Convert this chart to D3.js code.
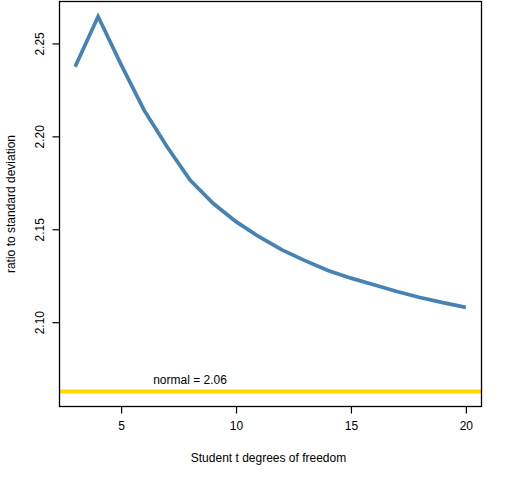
<!DOCTYPE html>
<html>
<head>
<meta charset="utf-8">
<script src="https://cdn.jsdelivr.net/npm/d3@7"></script>
<style>
  body { margin: 0; background: #fff; }
  text { font-family: "Liberation Sans", Arial, sans-serif; fill: #000; }
</style>
</head>
<body>
<svg id="chart" width="512" height="480"></svg>
<script>
// degrees of freedom and ratio to standard deviation
let dof = [3, 4, 5, 6, 7, 8, 9, 10, 11, 12, 13, 14, 15, 16, 17, 18, 19, 20];
let ratio = [2.2375, 2.2645, 2.2386, 2.2141, 2.1944, 2.1765, 2.1640, 2.1541, 2.1460,
             2.1389, 2.1331, 2.1278, 2.1237, 2.1201, 2.1165, 2.1133, 2.1105, 2.1080];
let normalRatio = 2.0627;
let xTicks = [5, 10, 15, 20];
let yTicks = [2.10, 2.15, 2.20, 2.25];

let plotLeft = 59.5, plotRight = 481.5, plotTop = 1.5, plotBottom = 406.5;

let svg = d3.select('#chart');

// R style 4% padding on both axes
function padded(lo, hi) {
    let d = (hi - lo) * 0.04;
    return [lo - d, hi + d];
}

let x = d3.scaleLinear()
    .domain(padded(d3.min(dof), d3.max(dof)))
    .range([plotLeft, plotRight]);

let y = d3.scaleLinear()
    .domain(padded(Math.min(normalRatio, d3.min(ratio)), d3.max(ratio)))
    .range([plotBottom, plotTop]);

// normal reference line
svg.append('line')
    .attr('x1', plotLeft).attr('x2', plotRight)
    .attr('y1', y(normalRatio)).attr('y2', y(normalRatio))
    .attr('stroke', '#FFD700')
    .attr('stroke-width', 4);

svg.append('text')
    .attr('x', x(8))
    .attr('y', y(normalRatio) - 8)
    .attr('text-anchor', 'middle')
    .style('font-size', '12px')
    .text('normal = ' + normalRatio.toFixed(2));

// the curve
let line = d3.line()
    .x(function(d, i) { return x(dof[i]); })
    .y(function(d) { return y(d); });

svg.append('path')
    .datum(ratio)
    .attr('d', line)
    .attr('fill', 'none')
    .attr('stroke', '#4682B4')
    .attr('stroke-width', 3.7)
    .attr('stroke-linejoin', 'miter');

// box
svg.append('rect')
    .attr('x', plotLeft).attr('y', plotTop)
    .attr('width', plotRight - plotLeft).attr('height', plotBottom - plotTop)
    .attr('fill', 'none')
    .attr('stroke', '#000')
    .attr('stroke-width', 1.3);

// axes
let xAxis = svg.append('g')
    .attr('transform', 'translate(0,' + plotBottom + ')')
    .call(d3.axisBottom(x).tickValues(xTicks).tickSize(7).tickPadding(8).tickSizeOuter(0));
xAxis.select('.domain').remove();
xAxis.selectAll('line').attr('stroke-width', 1.2);
xAxis.selectAll('text')
    .style('font-size', '12px')
    .style('font-family', '"Liberation Sans", Arial, sans-serif');

let yAxis = svg.append('g')
    .attr('transform', 'translate(' + plotLeft + ',0)')
    .call(d3.axisLeft(y).tickValues(yTicks).tickSize(7).tickFormat(d3.format('.2f')));
yAxis.select('.domain').remove();
yAxis.selectAll('line').attr('stroke-width', 1.2);
yAxis.selectAll('text')
    .attr('x', null).attr('dy', null)
    .attr('text-anchor', 'middle')
    .attr('transform', 'translate(-16,0) rotate(-90)')
    .style('font-size', '12px')
    .style('font-family', '"Liberation Sans", Arial, sans-serif');

// axis titles
svg.append('text')
    .attr('x', (plotLeft + plotRight) / 2 - 2)
    .attr('y', 462)
    .attr('text-anchor', 'middle')
    .style('font-size', '12px')
    .text('Student t degrees of freedom');

svg.append('text')
    .attr('transform', 'translate(15,' + (plotTop + plotBottom) / 2 + ') rotate(-90)')
    .attr('text-anchor', 'middle')
    .style('font-size', '12px')
    .text('ratio to standard deviation');
</script>
</body>
</html>
